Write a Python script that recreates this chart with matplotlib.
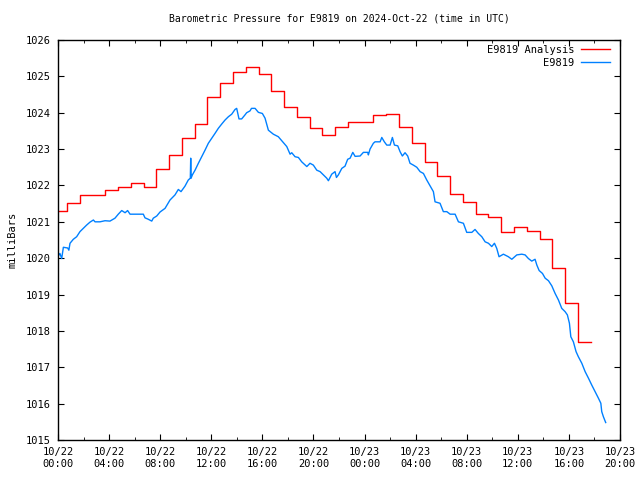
from datetime import datetime, timedelta
import matplotlib
matplotlib.use("Agg")
import matplotlib.pyplot as plt
import matplotlib.dates as mdates

plt.rcParams['font.family'] = ['DejaVu Sans Mono']
plt.rcParams['font.size'] = 7

start = datetime(2024, 10, 22)

# hourly analysis values (each hour's step starts ~0.7 h before the next)
analysis_start_hours = [0.0] + [k - 0.3 for k in range(1, 42)] + [41.7]
analysis_mb = [1021.30, 1021.51, 1021.74, 1021.74, 1021.87, 1021.95, 1022.06,
               1021.95, 1022.44, 1022.84, 1023.30, 1023.68, 1024.42, 1024.81,
               1025.13, 1025.25, 1025.06, 1024.60, 1024.15, 1023.88, 1023.58,
               1023.39, 1023.61, 1023.74, 1023.74, 1023.94, 1023.96, 1023.60,
               1023.16, 1022.64, 1022.27, 1021.76, 1021.54, 1021.22, 1021.13,
               1020.72, 1020.85, 1020.74, 1020.52, 1019.72, 1018.76, 1017.69]
analysis_mb = analysis_mb + [analysis_mb[-1]]

# station observations (hours since 10/22 00:00 UTC, mb)
obs_hours = [0.0, 0.15, 0.29, 0.42, 0.76, 0.85, 0.94, 1.2, 1.46, 1.72, 1.98,
             2.24, 2.5, 2.77, 2.9, 3.29, 3.68, 4.07, 4.46, 4.72, 4.99, 5.25,
             5.45, 5.64, 6.03, 6.68, 6.81, 7.07, 7.34, 7.46, 7.73, 7.99, 8.38,
             8.77, 9.16, 9.42, 9.63, 9.94, 10.2, 10.36, 10.39, 10.42, 10.52,
             10.73, 10.99, 11.25, 11.51, 11.77, 12.04, 12.29, 12.55, 12.82,
             13.08, 13.34, 13.6, 13.86, 13.99, 14.17, 14.38, 14.64, 14.77,
             15.03, 15.15, 15.43, 15.69, 16.0, 16.21, 16.47, 16.86, 17.25,
             17.64, 17.91, 18.17, 18.3, 18.56, 18.82, 19.08, 19.48, 19.73,
             19.99, 20.26, 20.52, 20.78, 21.04, 21.17, 21.43, 21.69, 21.8,
             21.95, 22.22, 22.47, 22.68, 22.87, 23.08, 23.26, 23.65, 23.91,
             24.25, 24.3, 24.43, 24.69, 24.82, 25.22, 25.35, 25.55, 25.74,
             26.0, 26.18, 26.34, 26.6, 26.78, 26.96, 27.17, 27.38, 27.56,
             27.82, 28.09, 28.35, 28.61, 28.87, 29.13, 29.39, 29.52, 29.91,
             30.17, 30.44, 30.7, 31.09, 31.35, 31.74, 32.0, 32.4, 32.65,
             32.91, 33.18, 33.44, 33.7, 33.96, 34.17, 34.35, 34.53, 34.87,
             35.26, 35.53, 35.92, 36.31, 36.57, 36.83, 37.09, 37.35, 37.49,
             37.67, 37.93, 38.14, 38.4, 38.66, 38.92, 39.18, 39.44, 39.7,
             39.88, 40.04, 40.15, 40.35, 40.56, 40.74, 41.01, 41.27, 41.53,
             41.79, 42.05, 42.31, 42.5, 42.57, 42.7, 42.88]
obs_mb = [1020.05, 1020.13, 1019.99, 1020.30, 1020.28, 1020.22, 1020.41,
          1020.52, 1020.59, 1020.73, 1020.82, 1020.91, 1020.99, 1021.05,
          1021.0, 1021.0, 1021.03, 1021.02, 1021.1, 1021.21, 1021.31, 1021.25,
          1021.31, 1021.21, 1021.21, 1021.21, 1021.11, 1021.07, 1021.02,
          1021.1, 1021.16, 1021.27, 1021.37, 1021.6, 1021.74, 1021.89,
          1021.83, 1021.98, 1022.15, 1022.2, 1022.75, 1022.2, 1022.29,
          1022.42, 1022.61, 1022.79, 1022.97, 1023.16, 1023.30, 1023.43,
          1023.57, 1023.69, 1023.80, 1023.89, 1023.96, 1024.09, 1024.12,
          1023.83, 1023.83, 1023.94, 1024.0, 1024.05, 1024.12, 1024.12,
          1024.01, 1023.98, 1023.85, 1023.52, 1023.41, 1023.34, 1023.18,
          1023.07, 1022.86, 1022.9, 1022.79, 1022.77, 1022.65, 1022.52,
          1022.61, 1022.56, 1022.42, 1022.38, 1022.29, 1022.20, 1022.13,
          1022.31, 1022.38, 1022.22, 1022.29, 1022.47, 1022.53, 1022.72,
          1022.75, 1022.91, 1022.80, 1022.81, 1022.91, 1022.91, 1022.84,
          1023.0, 1023.16, 1023.2, 1023.2, 1023.32, 1023.2, 1023.11, 1023.11,
          1023.32, 1023.11, 1023.09, 1022.93, 1022.81, 1022.90, 1022.81,
          1022.61, 1022.56, 1022.50, 1022.38, 1022.33, 1022.15, 1021.99,
          1021.83, 1021.55, 1021.51, 1021.28, 1021.28, 1021.21, 1021.21,
          1021.0, 1020.96, 1020.71, 1020.71, 1020.79, 1020.68, 1020.59,
          1020.45, 1020.41, 1020.32, 1020.41, 1020.27, 1020.04, 1020.11,
          1020.04, 1019.97, 1020.09, 1020.11, 1020.09, 1019.99, 1019.92,
          1019.97, 1019.81, 1019.66, 1019.58, 1019.45, 1019.38, 1019.24,
          1019.03, 1018.85, 1018.62, 1018.53, 1018.44, 1018.21, 1017.84,
          1017.70, 1017.43, 1017.29, 1017.11, 1016.88, 1016.70, 1016.51,
          1016.33, 1016.15, 1016.01, 1015.78, 1015.64, 1015.48]

t_analysis = [start + timedelta(hours=h) for h in analysis_start_hours]
t_obs = [start + timedelta(hours=h) for h in obs_hours]

fig = plt.figure(figsize=(6.4, 4.8), dpi=100)
ax = fig.add_axes([58 / 640, 40 / 480, 562 / 640, 400 / 480])

ax.step(t_analysis, analysis_mb, where="post", color="#ff0000", lw=1.0,
        label="E9819 Analysis")
ax.plot(t_obs, obs_mb, color="#0080ff", lw=1.0, label="E9819")

ax.set_xlim(start, start + timedelta(hours=44))
ax.set_ylim(1015, 1026)
ax.set_yticks(range(1015, 1027))
ax.xaxis.set_major_locator(mdates.HourLocator(byhour=range(0, 24, 4)))
ax.xaxis.set_minor_locator(mdates.HourLocator(byhour=range(2, 24, 4)))
ax.xaxis.set_major_formatter(mdates.DateFormatter("%m/%d\n%H:%M"))
ax.tick_params(which="both", direction="in", top=True, right=True,
               color="black", labelsize=7.5)
ax.tick_params(which="major", length=4, pad=5)
ax.tick_params(which="minor", length=2)
for s in ax.spines.values():
    s.set_linewidth(1.0)

ax.set_title("Barometric Pressure for E9819 on 2024-Oct-22 (time in UTC)",
             fontsize=7, pad=13)
ax.set_ylabel("milliBars", fontsize=7.5, labelpad=6)
ax.legend(loc="upper right", bbox_to_anchor=(1.0, 1.0125), frameon=False,
          markerfirst=False, fontsize=7.5, handlelength=2.8,
          handletextpad=0.6, labelspacing=0.25, borderaxespad=0.55)

plt.savefig("out.png", dpi=100)
